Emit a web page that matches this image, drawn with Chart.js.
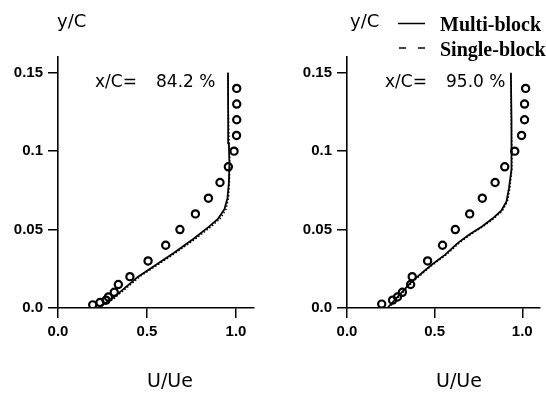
<!DOCTYPE html>
<html><head><meta charset="utf-8">
<script src="https://cdn.jsdelivr.net/npm/chart.js@4"></script>
<style>
html,body{margin:0;padding:0;background:#fff;}
#wrap{position:relative;width:546px;height:393px;overflow:hidden;background:#fff;}
.panel{position:absolute;top:0;width:273px;height:393px;}
canvas{display:block;}
</style></head><body>
<div id="wrap">
<div class="panel" style="left:0"><canvas id="c1" width="273" height="393"></canvas></div>
<div class="panel" style="left:273px"><canvas id="c2" width="273" height="393"></canvas></div>
</div>
<script>
// ---- tick labels ----
const X_TICKS = [0, 0.5, 1.0];
const X_TICK_LABELS = ["0.0", "0.5", "1.0"];
const Y_TICKS = [0, 0.05, 0.1, 0.15];
const Y_TICK_LABELS = ["0.0", "0.05", "0.1", "0.15"];

// ---- station labels ----
const STATIONS = ["84.2 %", "95.0 %"];

// ---- x/C = 84.2 % : experiment (circles) ----
const L_EXP_U = [0.195, 0.236, 0.27, 0.283, 0.316, 0.339, 0.404, 0.506, 0.605, 0.685, 0.772, 0.845, 0.91, 0.957, 0.989, 1.003, 1.004, 1.004, 1.004];
const L_EXP_Y = [0.002, 0.0035, 0.005, 0.007, 0.010, 0.015, 0.020, 0.030, 0.040, 0.050, 0.060, 0.070, 0.080, 0.090, 0.100, 0.110, 0.120, 0.130, 0.140];
// Multi-block (solid)
const L_MB_U = [0.22, 0.30, 0.45, 0.65, 0.76, 0.85, 0.90, 0.935, 0.952, 0.960, 0.963, 0.960, 0.956, 0.955];
const L_MB_Y = [0.0, 0.0055, 0.020, 0.035, 0.044, 0.052, 0.057, 0.063, 0.070, 0.080, 0.092, 0.105, 0.125, 0.150];
// Single-block (dashed)
const L_SB_U = [0.23, 0.31, 0.46, 0.66, 0.772, 0.862, 0.912, 0.944, 0.958, 0.963, 0.965, 0.962, 0.957, 0.955];
const L_SB_Y = [0.0, 0.0055, 0.020, 0.035, 0.044, 0.052, 0.057, 0.063, 0.070, 0.080, 0.092, 0.105, 0.125, 0.150];

// ---- x/C = 95.0 % ----
const R_EXP_U = [0.198, 0.26, 0.288, 0.316, 0.363, 0.372, 0.46, 0.545, 0.618, 0.70, 0.772, 0.845, 0.90, 0.957, 0.996, 1.013, 1.013, 1.019];
const R_EXP_Y = [0.0025, 0.005, 0.007, 0.010, 0.015, 0.020, 0.030, 0.040, 0.050, 0.060, 0.070, 0.080, 0.090, 0.100, 0.110, 0.120, 0.130, 0.140];
const R_MB_U = [0.23, 0.37, 0.483, 0.56, 0.633, 0.70, 0.77, 0.83, 0.88, 0.91, 0.925, 0.938, 0.940, 0.937, 0.935];
const R_MB_Y = [0.0, 0.017, 0.0276, 0.034, 0.0415, 0.047, 0.052, 0.057, 0.062, 0.068, 0.077, 0.088, 0.100, 0.120, 0.150];
const R_SB_U = [0.238, 0.378, 0.49, 0.568, 0.641, 0.708, 0.778, 0.838, 0.887, 0.916, 0.93, 0.94, 0.941, 0.937, 0.935];
const R_SB_Y = [0.0, 0.017, 0.0276, 0.034, 0.0415, 0.047, 0.052, 0.057, 0.062, 0.068, 0.077, 0.088, 0.100, 0.120, 0.150];

const pts = (u, y) => u.map((v, i) => ({x: v, y: y[i]}));

const freeText = {
  id: 'freeText',
  afterDraw(chart, args, opts) {
    const ctx = chart.ctx;
    ctx.save();
    ctx.fillStyle = '#000';
    ctx.strokeStyle = '#000';
    ctx.textAlign = 'left';
    ctx.textBaseline = 'alphabetic';
    for (const t of (opts.items || [])) {
      ctx.font = t.font;
      ctx.fillText(t.text, t.x, t.y);
    }
    for (const l of (opts.lines || [])) {
      ctx.beginPath();
      ctx.setLineDash([]);
      ctx.lineWidth = l.w;
      ctx.moveTo(l.x1, l.y);
      ctx.lineTo(l.x2, l.y);
      ctx.stroke();
    }
    ctx.restore();
  }
};

const TICK_FONT = {family: "'Liberation Sans', Arial, sans-serif", size: 15, weight: 'bold'};
const LABEL_FONT = "18px 'DejaVu Sans', sans-serif";
const ANNOT_FONT = "17px 'DejaVu Sans', sans-serif";
const XLABEL_FONT = "19px 'DejaVu Sans', sans-serif";
const LEG_FONT = "bold 20px 'Liberation Serif', 'Times New Roman', serif";

function makeChart(id, exp, mb, sb, yAxisW, padRight, items, lines) {
  return new Chart(document.getElementById(id), {
    type: 'scatter',
    data: {
      datasets: [
        {label: 'Single-block', data: sb, showLine: true, pointRadius: 0, borderColor: '#000', borderWidth: 1.4, borderDash: [1.5, 2], fill: false, tension: 0},
        {label: 'Multi-block', data: mb, showLine: true, pointRadius: 0, borderColor: '#000', borderWidth: 1.8, fill: false, tension: 0},
        {label: 'Experiment', data: exp, showLine: false, pointRadius: 3.6, pointBorderWidth: 2.2, pointBorderColor: '#000', pointBackgroundColor: 'rgba(255,255,255,0)'}
      ]
    },
    options: {
      responsive: false,
      animation: false,
      events: [],
      layout: {padding: {left: 0, right: padRight, top: 57, bottom: 0}},
      plugins: {
        legend: {display: false},
        tooltip: {enabled: false},
        freeText: {items, lines}
      },
      scales: {
        x: {
          type: 'linear', min: 0, max: 1.1,
          afterBuildTicks: s => { s.ticks = X_TICKS.map(v => ({value: v})); },
          afterFit: s => { s.height = 85; },
          ticks: {callback: (v, i) => X_TICK_LABELS[i], color: '#000', font: TICK_FONT, padding: 5, maxRotation: 0, autoSkip: false},
          grid: {drawOnChartArea: false, drawTicks: true, tickLength: 10, color: '#000', lineWidth: 1.5},
          border: {display: true, color: '#000', width: 1.6}
        },
        y: {
          type: 'linear', min: 0, max: 0.16,
          afterBuildTicks: s => { s.ticks = Y_TICKS.map(v => ({value: v})); },
          afterFit: s => { s.width = yAxisW; },
          ticks: {callback: (v, i) => Y_TICK_LABELS[i], color: '#000', font: TICK_FONT, padding: 5, autoSkip: false},
          grid: {drawOnChartArea: false, drawTicks: true, tickLength: 10, color: '#000', lineWidth: 1.5},
          border: {display: true, color: '#000', width: 1.6}
        }
      }
    },
    plugins: [freeText]
  });
}

makeChart('c1', pts(L_EXP_U, L_EXP_Y), pts(L_MB_U, L_MB_Y), pts(L_SB_U, L_SB_Y), 58, 19.2, [
  {text: 'y/C', x: 57, y: 27, font: LABEL_FONT},
  {text: 'x/C=', x: 95, y: 87, font: ANNOT_FONT},
  {text: STATIONS[0], x: 156, y: 87, font: ANNOT_FONT},
  {text: 'U/Ue', x: 147, y: 387, font: XLABEL_FONT}
], []);

makeChart('c2', pts(R_EXP_U, R_EXP_Y), pts(R_MB_U, R_MB_Y), pts(R_SB_U, R_SB_Y), 74, 3.2, [
  {text: 'y/C', x: 77, y: 27, font: LABEL_FONT},
  {text: 'x/C=', x: 112, y: 87, font: ANNOT_FONT},
  {text: STATIONS[1], x: 173, y: 87, font: ANNOT_FONT},
  {text: 'U/Ue', x: 163, y: 387, font: XLABEL_FONT},
  {text: 'Multi-block', x: 167, y: 31, font: LEG_FONT},
  {text: 'Single-block', x: 167, y: 56, font: LEG_FONT}
], [
  {x1: 125, x2: 152, y: 23.5, w: 1.5},
  {x1: 126, x2: 133, y: 48, w: 1.5},
  {x1: 145, x2: 152, y: 48, w: 1.5}
]);
</script>
</body></html>
